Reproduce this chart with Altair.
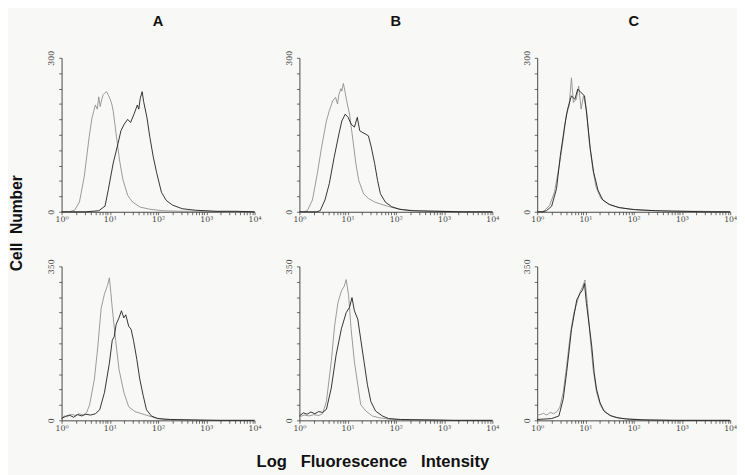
import math
import altair as alt
import pandas as pd

# ---------------- data (x in decades of log fluorescence, y = cell count) -------------
A1_CTRL_X = [0.0, 0.15, 0.27, 0.37, 0.47, 0.57, 0.63, 0.70, 0.74, 0.77, 0.80, 0.83, 0.86, 0.89, 0.93, 0.97, 1.0, 1.04, 1.07, 1.13, 1.2, 1.27, 1.37, 1.47, 1.63, 1.83, 2.1, 2.5, 3.0, 3.5, 4.0]
A1_CTRL_Y = [0, 0, 3, 19, 69, 145, 183, 208, 200, 224, 205, 218, 228, 231, 234, 227, 221, 210, 196, 152, 101, 63, 32, 19, 9, 5, 2, 1, 1, 0, 0]
A1_STAIN_X = [0.0, 0.5, 0.77, 0.9, 0.97, 1.07, 1.17, 1.23, 1.3, 1.37, 1.43, 1.5, 1.57, 1.6, 1.63, 1.67, 1.7, 1.77, 1.83, 1.9, 1.97, 2.07, 2.17, 2.3, 2.5, 2.77, 3.2, 3.6, 4.0]
A1_STAIN_Y = [0, 0, 2, 11, 44, 95, 133, 158, 171, 180, 174, 190, 208, 200, 221, 234, 215, 183, 145, 107, 76, 38, 22, 13, 6, 3, 1, 1, 0]

A2_CTRL_X = [0.0, 0.05, 0.12, 0.2, 0.28, 0.36, 0.45, 0.52, 0.58, 0.68, 0.75, 0.82, 0.89, 0.95, 0.99, 1.02, 1.05, 1.12, 1.19, 1.29, 1.39, 1.52, 1.72, 1.93, 2.13, 2.5, 3.0, 4.0]
A2_CTRL_Y = [5, 10, 8, 14, 11, 15, 12, 18, 35, 94, 167, 255, 288, 306, 324, 291, 255, 182, 116, 64, 31, 20, 13, 6, 2, 1, 0, 0]
A2_STAIN_X = [0.0, 0.08, 0.16, 0.25, 0.33, 0.42, 0.5, 0.6, 0.7, 0.79, 0.89, 0.99, 1.05, 1.09, 1.13, 1.19, 1.24, 1.29, 1.33, 1.39, 1.44, 1.49, 1.56, 1.62, 1.69, 1.76, 1.86, 1.99, 2.26, 2.7, 3.3, 4.0]
A2_STAIN_Y = [4, 9, 12, 7, 13, 10, 14, 12, 15, 24, 64, 130, 182, 190, 218, 233, 249, 233, 240, 214, 207, 182, 138, 94, 57, 24, 10, 4, 2, 1, 0, 0]

B1_CTRL_X = [0.0, 0.1, 0.17, 0.27, 0.37, 0.46, 0.56, 0.62, 0.69, 0.75, 0.79, 0.82, 0.86, 0.88, 0.91, 0.93, 0.98, 1.04, 1.11, 1.17, 1.23, 1.33, 1.43, 1.56, 1.75, 1.94, 2.14, 2.45, 3.0, 3.5, 4.0]
B1_CTRL_Y = [0, 0, 3, 23, 74, 126, 177, 197, 216, 223, 210, 229, 240, 235, 250, 242, 216, 190, 139, 94, 61, 35, 26, 19, 13, 8, 4, 2, 1, 0, 0]
B1_STAIN_X = [0.0, 0.35, 0.43, 0.53, 0.62, 0.72, 0.82, 0.88, 0.95, 1.01, 1.07, 1.14, 1.2, 1.25, 1.3, 1.36, 1.43, 1.49, 1.56, 1.62, 1.68, 1.78, 1.91, 2.07, 2.33, 2.8, 3.4, 4.0]
B1_STAIN_Y = [0, 0, 2, 23, 55, 106, 152, 177, 190, 184, 171, 165, 184, 158, 155, 152, 148, 126, 94, 61, 35, 19, 10, 5, 2, 1, 0, 0]

B2_CTRL_X = [0.0, 0.1, 0.2, 0.3, 0.4, 0.48, 0.56, 0.66, 0.73, 0.8, 0.87, 0.93, 0.97, 1.02, 1.07, 1.14, 1.21, 1.27, 1.38, 1.51, 1.65, 1.85, 2.1, 2.6, 3.2, 4.0]
B2_CTRL_Y = [8, 12, 10, 13, 11, 15, 43, 133, 215, 268, 294, 305, 320, 284, 209, 133, 81, 36, 21, 10, 6, 3, 1, 1, 0, 0]
B2_STAIN_X = [0.0, 0.08, 0.16, 0.24, 0.32, 0.4, 0.48, 0.56, 0.66, 0.76, 0.87, 0.97, 1.04, 1.09, 1.14, 1.21, 1.27, 1.34, 1.41, 1.48, 1.58, 1.72, 1.85, 2.1, 2.6, 3.2, 4.0]
B2_STAIN_Y = [10, 17, 14, 19, 15, 20, 18, 25, 73, 148, 208, 245, 257, 279, 249, 230, 185, 133, 81, 43, 21, 10, 4, 2, 1, 0, 0]

C1_CTRL_X = [0.0, 0.1, 0.16, 0.26, 0.36, 0.47, 0.54, 0.6, 0.66, 0.71, 0.75, 0.81, 0.86, 0.91, 0.96, 1.02, 1.08, 1.15, 1.22, 1.32, 1.46, 1.63, 1.91, 2.25, 2.8, 3.4, 4.0]
C1_CTRL_Y = [0, 0, 3, 13, 39, 97, 142, 187, 206, 261, 213, 219, 245, 200, 226, 200, 135, 84, 48, 26, 16, 10, 5, 3, 1, 1, 0]
C1_STAIN_X = [0.0, 0.12, 0.19, 0.3, 0.4, 0.48, 0.57, 0.63, 0.71, 0.78, 0.84, 0.91, 0.98, 1.03, 1.1, 1.17, 1.26, 1.36, 1.5, 1.7, 2.04, 2.46, 3.0, 3.5, 4.0]
C1_STAIN_Y = [0, 0, 2, 11, 45, 110, 168, 200, 226, 219, 239, 232, 226, 187, 123, 77, 42, 23, 14, 8, 4, 2, 1, 0, 0]

C2_CTRL_X = [0.0, 0.06, 0.13, 0.2, 0.27, 0.34, 0.41, 0.47, 0.54, 0.61, 0.69, 0.76, 0.82, 0.89, 0.94, 0.99, 1.04, 1.09, 1.16, 1.23, 1.31, 1.4, 1.54, 1.72, 1.92, 2.3, 2.9, 4.0]
C2_CTRL_Y = [12, 13, 16, 12, 18, 15, 20, 30, 64, 124, 199, 244, 266, 292, 304, 319, 266, 199, 116, 64, 34, 19, 10, 5, 3, 1, 0, 0]
C2_STAIN_X = [0.0, 0.3, 0.45, 0.54, 0.61, 0.71, 0.82, 0.89, 0.94, 0.98, 1.02, 1.08, 1.13, 1.18, 1.23, 1.3, 1.38, 1.51, 1.65, 1.85, 2.2, 2.8, 4.0]
C2_STAIN_Y = [2, 4, 10, 49, 109, 206, 274, 289, 296, 311, 266, 214, 169, 109, 71, 41, 22, 11, 6, 3, 1, 0, 0]

PANEL_TITLES = ["A", "B", "C"]
ROW_YMAX = [300, 350]
DECADE_LABELS = ["10\u2070", "10\u00b9", "10\u00b2", "10\u00b3", "10\u2074"]

PANELS = [
    [(A1_CTRL_X, A1_CTRL_Y, A1_STAIN_X, A1_STAIN_Y),
     (B1_CTRL_X, B1_CTRL_Y, B1_STAIN_X, B1_STAIN_Y),
     (C1_CTRL_X, C1_CTRL_Y, C1_STAIN_X, C1_STAIN_Y)],
    [(A2_CTRL_X, A2_CTRL_Y, A2_STAIN_X, A2_STAIN_Y),
     (B2_CTRL_X, B2_CTRL_Y, B2_STAIN_X, B2_STAIN_Y),
     (C2_CTRL_X, C2_CTRL_Y, C2_STAIN_X, C2_STAIN_Y)],
]

# ---------------- styling ----------------
W, H = 198, 158
LIGHT = "#8e8e8e"
DARK = "#1a1a1a"
TICK_FONT = "DejaVu Serif"
BOLD_FONT = "Liberation Sans"

# log-decade tick positions (majors + minors)
x_ticks = []
for d in range(4):
    for k in range(1, 10):
        x_ticks.append(round(d + math.log10(k), 4))
x_ticks.append(4.0)

sup_arr = "[" + ",".join("'%s'" % s for s in DECADE_LABELS) + "]"
x_label_expr = (
    "abs(datum.value - round(datum.value)) < 0.001 ? "
    + sup_arr + "[round(datum.value)] : ''"
)


def panel(row, col):
    cx, cy, sx, sy = PANELS[row][col]
    ymax = ROW_YMAX[row]
    df_c = pd.DataFrame({"x": cx, "y": cy})
    df_s = pd.DataFrame({"x": sx, "y": sy})
    y_ticks = list(range(0, ymax + 1, ymax // 10))
    x_enc = alt.X(
        "x:Q",
        scale=alt.Scale(domain=[0, 4], nice=False, zero=False),
        axis=alt.Axis(
            values=x_ticks, labelExpr=x_label_expr, title=None, grid=False,
            tickSize=3, labelFontSize=8, labelFont=TICK_FONT, labelColor="#444",
            domainColor="#333", tickColor="#444", labelPadding=1,
            labelOverlap=False, labelFlush=False, tickWidth=0.8, domainWidth=0.9,
        ),
    )
    y_enc = alt.Y(
        "y:Q",
        scale=alt.Scale(domain=[0, ymax], nice=False),
        axis=alt.Axis(
            values=y_ticks,
            labelExpr=f"datum.value == {ymax} ? '{ymax}' : datum.value == 0 ? '0' : ''",
            title=None, grid=False, tickSize=3, labelFontSize=8, labelFont=TICK_FONT,
            labelColor="#444", domainColor="#333", tickColor="#444",
            labelAngle=270, labelAlign="center", labelBaseline="bottom",
            labelPadding=3, labelOverlap=False, tickWidth=0.8, domainWidth=0.9,
        ),
    )
    ctrl = alt.Chart(df_c).mark_line(color=LIGHT, strokeWidth=0.9).encode(x=x_enc, y=y_enc)
    stain = alt.Chart(df_s).mark_line(color=DARK, strokeWidth=0.9).encode(x=x_enc, y=y_enc)
    ch = alt.layer(ctrl, stain).properties(width=W, height=H)
    if row == 0:
        ch = ch.properties(
            title=alt.TitleParams(
                PANEL_TITLES[col], font=BOLD_FONT, fontSize=15, fontWeight="bold",
                color="#111", offset=22,
            )
        )
    return ch


row1 = alt.hconcat(*[panel(0, c) for c in range(3)], spacing=25)
row2 = alt.hconcat(*[panel(1, c) for c in range(3)], spacing=25)

inner = alt.vconcat(row1, row2, spacing=36).properties(
    title=alt.TitleParams(
        "Cell\u00a0\u00a0Number", orient="left", font=BOLD_FONT, fontSize=16,
        fontWeight="bold", color="#111", offset=24, anchor="middle",
    )
)

chart = (
    alt.vconcat(inner)
    .properties(
        title=alt.TitleParams(
            "Log\u00a0\u00a0\u00a0Fluorescence\u00a0\u00a0\u00a0Intensity", orient="bottom",
            font=BOLD_FONT, fontSize=17, fontWeight="bold", color="#111",
            offset=23, anchor="middle",
        )
    )
    .configure(background="#f8f8f6", padding=0)
    .configure_view(stroke=None)
)

chart.save("out.html", embed_options={"renderer": "svg", "actions": False})
